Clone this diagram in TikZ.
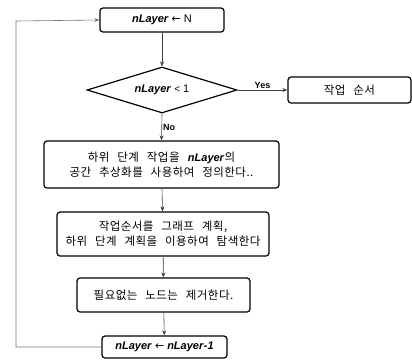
\documentclass[tikz,border=0pt]{standalone}
\usepackage{fontspec}
\setmainfont{Liberation Sans}
\newfontfamily\krf[WordSpace=2.6,LetterSpace=4]{Noto Sans CJK KR}
\newcommand{\kr}{\krf\fontsize{11.5}{15}\selectfont}
\newfontfamily\dv{DejaVu Sans}
\usetikzlibrary{shapes.geometric,arrows.meta}
\newcommand{\nL}{\textbf{\textit{nLayer}}}
\begin{document}
\begin{tikzpicture}[x=1pt,y=-1pt,
  box/.style={draw=black,line width=1.2pt,rounded corners=3pt,align=center,inner sep=0pt,font=\fontsize{11}{15}\selectfont},
  dia/.style={draw=black,line width=1.2pt,diamond,inner sep=0pt,font=\fontsize{11}{14}\selectfont},
  arr/.style={draw=black!75,line width=0.6pt,-{Stealth[length=5pt,width=4pt]}},
  lbl/.style={font=\fontsize{9}{11}\selectfont\bfseries,inner sep=1pt}]
\useasboundingbox (0,0) rectangle (412,360);
\node[box,minimum width=124pt,minimum height=24pt] (init) at (162,20) {\nL\ {\dv ←} N};
\node[dia,minimum width=150pt,minimum height=46pt,aspect=3.2] (cond) at (162,90) {\nL\ {\fontsize{10}{12}\selectfont <} 1};
\node[box,minimum width=123pt,minimum height=26pt] (out) at (349.5,90) {{\kr 작업 순서}};
\node[box,minimum width=235pt,minimum height=47pt] (b2) at (161.5,164.5) {{\kr 하위 단계 작업을 }\nL{\kr 의}\\{\kr 공간 추상화를 사용하여 정의한다..}};
\node[box,minimum width=212pt,minimum height=44pt] (b3) at (163,234) {{\kr 작업순서를 그래프 계획,}\\{\kr 하위 단계 계획을 이용하여 탐색한다}};
\node[box,minimum width=173pt,minimum height=34pt] (b4) at (163.5,295) {{\kr 필요없는 노드는 제거한다.}};
\node[box,minimum width=125pt,minimum height=22pt] (b5) at (164.5,347) {\nL\ {\dv ←} \nL\textbf{\textit{-1}}};
\coordinate (c1) at (16,347);
\coordinate (c2) at (16,21);
\draw[arr] (init.south) -- (cond.north);
\draw[arr] (cond.east) -- node[lbl,above] {Yes} (out.west);
\draw[arr] (cond.south) -- node[lbl,right,pos=0.5] {No} (b2.north);
\draw[arr] (b2) -- (b3);
\draw[arr] (b3) -- (b4);
\draw[arr] (b4) -- (b5);
\draw[arr,draw=black!55] (b5.west) -- (c1) -- (c2) -- (init.west);
\end{tikzpicture}
\end{document}
